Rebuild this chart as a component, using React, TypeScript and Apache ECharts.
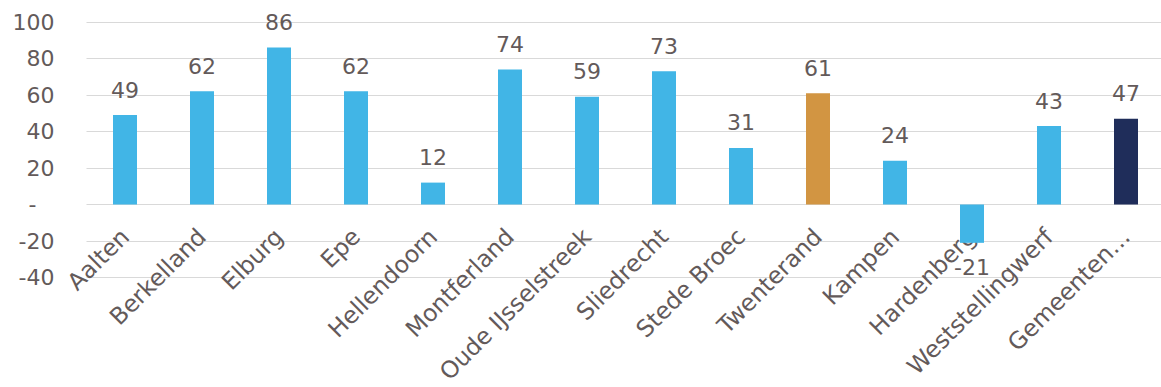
import React, { useEffect, useRef } from "react";
import * as echarts from "echarts";

const categories = [
  "Aalten",
  "Berkelland",
  "Elburg",
  "Epe",
  "Hellendoorn",
  "Montferland",
  "Oude IJsselstreek",
  "Sliedrecht",
  "Stede Broec",
  "Twenterand",
  "Kampen",
  "Hardenberg",
  "Weststellingwerf",
  "Gemeenten…",
];
const values = [49, 62, 86, 62, 12, 74, 59, 73, 31, 61, 24, -21, 43, 47];
const barColors = [
  "#41B5E6", "#41B5E6", "#41B5E6", "#41B5E6", "#41B5E6", "#41B5E6", "#41B5E6",
  "#41B5E6", "#41B5E6", "#D29542", "#41B5E6", "#41B5E6", "#41B5E6", "#1F2D5A",
];
const yTicks = { min: -40, max: 100, interval: 20 };

const TEXT = "#635a5a";
const FONT = "DejaVu Sans, Verdana, sans-serif";

export default function App() {
  const ref = useRef<HTMLDivElement>(null);
  useEffect(() => {
    document.body.style.margin = "0";
    const chart = echarts.init(ref.current!, null, { renderer: "svg" });
    chart.setOption({
      animation: false,
      grid: { left: 86.5, top: 22, width: 1078, height: 255.5, outerBoundsMode: "none", containLabel: false },
      xAxis: {
        type: "category",
        data: categories,
        position: "bottom",
        offset: -72.8,
        axisLine: { show: false, onZero: false },
        axisTick: { show: false },
        splitLine: { show: false },
        axisLabel: {
          rotate: 45,
          interval: 0,
          margin: 28,
          color: TEXT,
          fontFamily: FONT,
          fontSize: 23.5,
        },
      },
      yAxis: {
        type: "value",
        min: yTicks.min,
        max: yTicks.max,
        interval: yTicks.interval,
        axisLine: { show: false },
        axisTick: { show: false },
        splitLine: { lineStyle: { color: "#d9d9d9", width: 1 } },
        axisLabel: {
          margin: 32,
          color: TEXT,
          fontFamily: FONT,
          fontSize: 22,
          formatter: (v: number) => (v === 0 ? "{d|-}" : String(v)),
          rich: {
            d: { padding: [0, 18, 0, 0], color: TEXT, fontFamily: FONT, fontSize: 22 },
          },
        },
      },
      series: [
        {
          type: "bar",
          barWidth: 24,
          data: values.map((v, i) => ({
            value: v,
            itemStyle: { color: barColors[i] },
            label: { position: v < 0 ? "bottom" : "top" },
          })),
          label: {
            show: true,
            distance: 14,
            color: TEXT,
            fontFamily: FONT,
            fontSize: 22,
          },
        },
      ],
    });
    return () => chart.dispose();
  }, []);
  return <div ref={ref} style={{ width: 1161, height: 387 }} />;
}
